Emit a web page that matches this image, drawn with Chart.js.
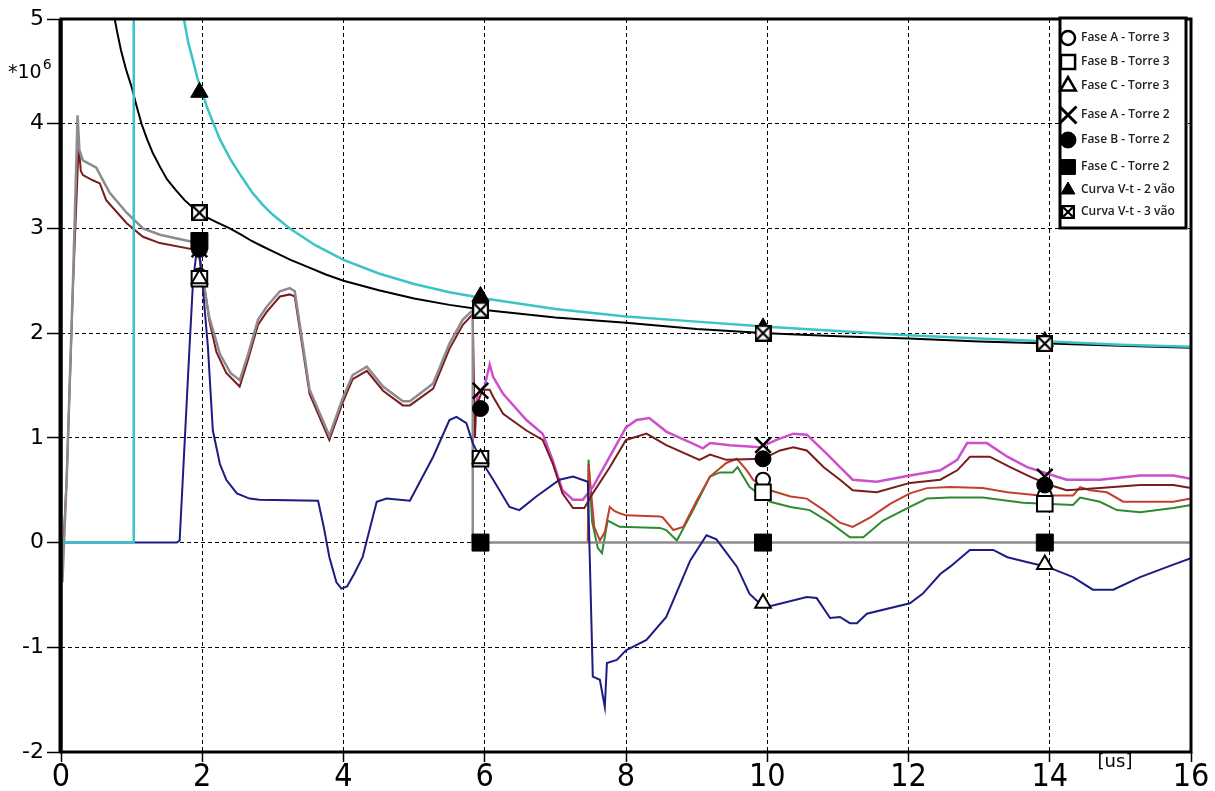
<!DOCTYPE html>
<html>
<head>
<meta charset="utf-8">
<script src="https://cdn.jsdelivr.net/npm/chart.js@4.4.1/dist/chart.umd.min.js"></script>
<style>
html,body{margin:0;padding:0;background:#fff;}
#wrap{width:1215px;height:791px;position:relative;}
</style>
</head>
<body>
<div id="wrap"><canvas id="c" width="1215" height="791"></canvas></div>
<script>
// ---------- axis ----------
const xMin = 0, xMax = 16, xStep = 2;
const yMin = -2, yMax = 5, yStep = 1;
const yUnitLabel = '*10';
const yUnitExp = '6';
const xUnitLabel = '[us]';

// ---------- curves (time in us, value in 10^6) ----------
const grayT = [0,0.01,0.02,0.08,0.17,0.235,0.26,0.31,0.5,0.57,0.69,0.93,1.16,1.4,1.87,1.93,2.0,2.1,2.25,2.4,2.53,2.65,2.79,2.91,3.1,3.24,3.31,3.52,3.8,3.99,4.13,4.33,4.56,4.84,4.94,5.27,5.5,5.69,5.83,5.83,16];
const grayV = [0,-0.1,-0.38,0.6,2.5,4.08,3.75,3.65,3.58,3.49,3.34,3.15,3.0,2.94,2.87,2.85,2.55,2.15,1.8,1.62,1.55,1.8,2.13,2.25,2.4,2.43,2.4,1.46,1.02,1.38,1.6,1.68,1.49,1.35,1.35,1.52,1.9,2.13,2.22,0,0];

const maroonT = [0,0.02,0.08,0.17,0.25,0.28,0.31,0.45,0.55,0.64,0.93,1.16,1.4,1.87,1.95,2.02,2.1,2.2,2.34,2.53,2.65,2.79,2.91,3.1,3.24,3.31,3.52,3.8,3.99,4.13,4.33,4.56,4.84,4.94,5.27,5.5,5.69,5.83,5.86,5.88,5.97,6.07,6.12,6.26,6.59,6.82,6.96,7.1,7.25,7.41,7.53,7.77,8.0,8.29,8.57,9.04,9.19,9.42,9.94,10.18,10.37,10.56,10.8,11.03,11.21,11.55,12.02,12.45,12.69,12.87,13.15,13.44,13.72,14.0,14.24,14.71,15.28,15.75,16];
const maroonV = [0,-0.2,0.6,2.45,3.8,3.55,3.51,3.46,3.43,3.27,3.05,2.92,2.86,2.8,2.78,2.5,2.12,1.82,1.62,1.49,1.75,2.08,2.2,2.35,2.37,2.35,1.42,0.98,1.34,1.56,1.64,1.45,1.31,1.31,1.47,1.85,2.08,2.18,1.0,1.3,1.46,1.46,1.39,1.23,1.07,0.98,0.76,0.47,0.33,0.33,0.47,0.72,0.98,1.04,0.93,0.79,0.84,0.79,0.8,0.88,0.91,0.88,0.72,0.6,0.5,0.48,0.57,0.6,0.69,0.82,0.82,0.72,0.63,0.55,0.5,0.52,0.55,0.55,0.52];

const magentaT = [5.86,5.9,6.0,6.07,6.12,6.26,6.59,6.82,6.96,7.1,7.25,7.39,7.53,7.77,8.0,8.15,8.33,8.57,8.9,9.09,9.19,9.47,9.9,10.13,10.37,10.56,10.84,11.03,11.21,11.55,12.02,12.45,12.69,12.83,13.11,13.4,13.68,13.96,14.24,14.71,15.28,15.75,16];
const magentaV = [1.2,1.42,1.5,1.7,1.58,1.42,1.17,1.04,0.79,0.5,0.41,0.41,0.53,0.82,1.1,1.17,1.19,1.06,0.96,0.9,0.95,0.93,0.91,0.98,1.04,1.03,0.85,0.72,0.6,0.58,0.64,0.69,0.79,0.95,0.95,0.82,0.72,0.66,0.6,0.6,0.64,0.64,0.61];

const redT = [7.46,7.47,7.55,7.63,7.7,7.77,7.84,7.91,8.0,8.48,8.52,8.67,8.81,9.0,9.19,9.42,9.57,9.71,9.8,10.04,10.33,10.56,10.8,11.03,11.21,11.46,11.74,12.02,12.26,12.59,13.05,13.4,13.86,14.33,14.43,14.57,14.81,15.04,15.75,16];
const redV = [0,0.75,0.15,0.02,0.1,0.34,0.3,0.28,0.26,0.25,0.24,0.12,0.15,0.4,0.63,0.76,0.8,0.69,0.6,0.5,0.44,0.42,0.31,0.19,0.15,0.24,0.37,0.47,0.52,0.53,0.52,0.48,0.45,0.45,0.53,0.5,0.48,0.39,0.39,0.42];

const greenT = [7.46,7.47,7.52,7.6,7.66,7.74,7.91,8.48,8.57,8.72,8.95,9.19,9.33,9.51,9.58,9.75,10.04,10.33,10.6,10.89,11.17,11.36,11.64,12.02,12.26,12.59,13.05,13.62,14.33,14.43,14.71,14.95,15.28,15.75,16];
const greenV = [0,0.79,0.2,-0.05,-0.1,0.21,0.15,0.14,0.12,0.02,0.31,0.63,0.67,0.67,0.72,0.53,0.39,0.34,0.31,0.19,0.05,0.05,0.21,0.34,0.42,0.43,0.43,0.38,0.36,0.43,0.39,0.31,0.29,0.33,0.36];

const navyT = [0,1.64,1.68,1.82,1.87,1.92,1.96,2.0,2.08,2.15,2.25,2.34,2.49,2.67,2.81,3.64,3.72,3.8,3.9,3.97,4.05,4.15,4.27,4.47,4.61,4.94,5.27,5.5,5.6,5.74,5.83,5.97,6.12,6.35,6.49,6.73,7.06,7.25,7.46,7.47,7.53,7.63,7.7,7.73,7.87,8.0,8.29,8.57,8.91,9.14,9.28,9.57,9.75,9.94,10.08,10.56,10.7,10.89,11.03,11.17,11.27,11.41,12.02,12.2,12.45,12.59,12.87,13.2,13.4,13.76,13.96,14.33,14.61,14.9,15.28,15.75,16];
const navyV = [0,0,0.02,1.87,2.5,2.78,2.75,2.5,1.87,1.07,0.75,0.6,0.47,0.42,0.41,0.4,0.15,-0.14,-0.38,-0.44,-0.42,-0.3,-0.14,0.39,0.42,0.4,0.82,1.17,1.2,1.14,0.95,0.76,0.6,0.34,0.31,0.44,0.6,0.63,0.58,0.3,-1.28,-1.31,-1.57,-1.15,-1.12,-1.03,-0.93,-0.71,-0.17,0.07,0.03,-0.23,-0.49,-0.61,-0.6,-0.52,-0.53,-0.72,-0.71,-0.77,-0.77,-0.68,-0.58,-0.49,-0.3,-0.23,-0.07,-0.07,-0.14,-0.2,-0.23,-0.33,-0.45,-0.45,-0.33,-0.21,-0.15];

// V-t curve, 2 spans (cyan): step then curve (null = gap)
const cyanT = [0,1.03,1.03,1.3,1.70,1.74,1.8,1.87,1.93,2.0,2.06,2.13,2.25,2.4,2.55,2.7,2.85,3.0,3.24,3.6,4.0,4.5,5.0,5.5,6.0,7.0,8.0,9.0,10.0,11.0,12.0,13.0,14.0,15.0,16.0];
const cyanV = [0,0,5.6,null,5.15,5.0,4.78,4.6,4.44,4.3,4.17,4.05,3.85,3.66,3.5,3.35,3.23,3.13,3.0,2.84,2.70,2.57,2.47,2.39,2.33,2.23,2.16,2.11,2.06,2.02,1.98,1.95,1.92,1.89,1.87];

// V-t curve, 3 spans (black)
const blackT = [0.72,0.76,0.8,0.85,0.92,1.0,1.07,1.14,1.22,1.3,1.4,1.5,1.62,1.75,1.85,1.96,2.08,2.2,2.39,2.55,2.7,2.85,3.0,3.25,3.5,3.75,4.0,4.5,5.0,5.5,6.0,7.0,8.0,9.0,10.0,11.0,12.0,13.0,14.0,15.0,16.0];
const blackV = [5.15,5.0,4.86,4.7,4.52,4.35,4.17,4.0,3.85,3.72,3.59,3.47,3.37,3.27,3.21,3.15,3.1,3.06,3.0,2.94,2.88,2.83,2.78,2.7,2.63,2.56,2.5,2.41,2.33,2.27,2.22,2.15,2.1,2.04,2.0,1.97,1.95,1.92,1.9,1.88,1.86];

// ---------- markers ----------
const markerT = [1.96, 5.94, 9.94, 13.93];
const faseA_T3 = [2.55, 0.8, 0.6, 0.45];
const faseB_T3 = [2.52, 0.8, 0.48, 0.37];
const faseC_T3 = [2.52, 0.8, -0.58, -0.21];
const faseA_T2 = [2.8, 1.45, 0.93, 0.63];
const faseB_T2 = [2.8, 1.28, 0.8, 0.55];
const faseC_T2 = [2.88, 0, 0, 0];
const vt2 = [4.3, 2.35, 2.05, 1.92];
const vt3 = [3.15, 2.22, 2.0, 1.9];

const legendLabels = ['Fase A - Torre 3','Fase B - Torre 3','Fase C - Torre 3','Fase A - Torre 2','Fase B - Torre 2','Fase C - Torre 2','Curva V-t - 2 vão','Curva V-t - 3 vão'];

// ---------- build ----------
function pts(t, v) { return t.map((x, i) => ({x: x, y: v[i]})); }

function boxCross(size, lw) {
  const c = document.createElement('canvas');
  c.width = size; c.height = size;
  const g = c.getContext('2d');
  g.fillStyle = '#fff'; g.fillRect(0, 0, size, size);
  g.strokeStyle = '#000'; g.lineWidth = lw;
  g.strokeRect(lw / 2, lw / 2, size - lw, size - lw);
  g.beginPath();
  g.moveTo(lw, lw); g.lineTo(size - lw, size - lw);
  g.moveTo(size - lw, lw); g.lineTo(lw, size - lw);
  g.stroke();
  return c;
}
const boxCrossBig = boxCross(17, 2.2);
const boxCrossSmall = boxCross(14, 2.2);

function curve(t, v, color, width, order) {
  return {data: pts(t, v), showLine: true, borderColor: color, borderWidth: width,
          pointRadius: 0, pointHoverRadius: 0, spanGaps: false, order: order, isCurve: true, tension: 0};
}
function marker(label, vals, style, radius, fill, bw, order, legendStyle, legendRadius) {
  return {label: label, data: pts(markerT, vals), showLine: false, pointStyle: style, pointRadius: radius,
          pointBackgroundColor: fill, pointBorderColor: '#000', pointBorderWidth: bw, order: order,
          legendStyle: legendStyle || style, legendRadius: legendRadius};
}

const datasets = [
  marker(legendLabels[0], faseA_T3, 'circle', 7, '#fff', 2, 8, 'circle', 7),
  marker(legendLabels[1], faseB_T3, 'rect', 11, '#fff', 2, 7, 'rect', 10),
  marker(legendLabels[2], faseC_T3, 'triangle', 9, '#fff', 2, 6, 'triangle', 9),
  marker(legendLabels[3], faseA_T2, 'crossRot', 11, '#000', 2.5, 5, 'crossRot', 12),
  marker(legendLabels[4], faseB_T2, 'circle', 8, '#000', 1, 4, 'circle', 8),
  marker(legendLabels[5], faseC_T2, 'rect', 12, '#000', 1, 3, 'rect', 10.5),
  marker(legendLabels[6], vt2, 'triangle', 10, '#000', 1, 2, 'triangle', 8),
  marker(legendLabels[7], vt3, boxCrossBig, 8, '#fff', 0, 1, boxCrossSmall, 7),
  curve(blackT, blackV, '#000000', 2, 20),
  curve(cyanT, cyanV, '#3cc4c4', 2.5, 19),
  curve(grayT, grayV, '#8e8a8e', 2.5, 22),
  curve(maroonT, maroonV, '#7a1c1c', 2, 23),
  curve(magentaT, magentaV, '#cc4fcc', 2.5, 24),
  curve(redT, redV, '#c0402e', 2, 25),
  curve(greenT, greenV, '#2f8a2f', 2, 26),
  curve(navyT, navyV, '#1c1c82', 2, 21)
];

const overlay = {
  id: 'overlay',
  afterDraw(chart) {
    const {ctx, chartArea: a} = chart;
    ctx.save();
    // frame
    ctx.strokeStyle = '#000';
    ctx.lineWidth = 3;
    ctx.strokeRect(a.left, a.top, a.right - a.left, a.bottom - a.top);
    ctx.lineWidth = 4;
    ctx.beginPath(); ctx.moveTo(a.left - 0.5, a.top); ctx.lineTo(a.left - 0.5, a.bottom); ctx.stroke();
    // y unit
    ctx.fillStyle = '#000';
    ctx.textBaseline = 'alphabetic';
    ctx.textAlign = 'left';
    ctx.font = '19px "DejaVu Sans"';
    ctx.fillText(yUnitLabel, 8, 78);
    const w = ctx.measureText(yUnitLabel).width;
    ctx.font = '14px "DejaVu Sans"';
    ctx.fillText(yUnitExp, 8 + w + 1, 69);
    // x unit
    ctx.font = '18px "DejaVu Sans"';
    ctx.textAlign = 'center';
    ctx.textBaseline = 'middle';
    ctx.fillText(xUnitLabel, 1115, 762);
    // legend
    const L = 1060, T = 18, R = 1186, B = 228;
    ctx.fillStyle = '#fff';
    ctx.fillRect(L, T, R - L, B - T);
    ctx.strokeStyle = '#000';
    ctx.lineWidth = 3;
    ctx.strokeRect(L, T, R - L, B - T);
    const rows = [38, 62, 86, 115, 140, 167, 190, 212];
    const mk = chart.data.datasets.filter(d => !d.isCurve);
    mk.forEach((d, i) => {
      const y = rows[i];
      ctx.fillStyle = d.pointBackgroundColor;
      ctx.strokeStyle = '#000';
      ctx.lineWidth = d.pointBorderWidth > 1 ? d.pointBorderWidth + 0.5 : 1;
      Chart.helpers.drawPoint(ctx, {pointStyle: d.legendStyle, radius: d.legendRadius, rotation: 0, borderWidth: ctx.lineWidth}, 1068, y);
      ctx.fillStyle = '#222';
      ctx.font = '600 12px "Open Sans"';
      ctx.textAlign = 'left';
      ctx.textBaseline = 'middle';
      ctx.fillText(d.label, 1081, y);
    });
    ctx.restore();
  }
};

const yTickFont = {family: 'DejaVu Sans', size: 22};
const xTickFont = {family: '"Liberation Sans Narrow", "DejaVu Sans Condensed", sans-serif', size: 32};

new Chart(document.getElementById('c'), {
  type: 'scatter',
  data: {datasets: datasets},
  options: {
    responsive: false,
    animation: false,
    devicePixelRatio: 1,
    layout: {padding: {top: 19, right: 24, left: 0, bottom: 0}},
    plugins: {legend: {display: false}, tooltip: {enabled: false}},
    elements: {line: {tension: 0}},
    scales: {
      x: {
        type: 'linear', min: xMin, max: xMax,
        ticks: {stepSize: xStep, color: '#000', font: xTickFont, padding: -4, maxRotation: 0},
        grid: {color: '#000', lineWidth: 1, drawTicks: true, tickLength: 10, tickColor: '#000', tickWidth: 1.5, tickBorderDash: []},
        border: {display: false, dash: [4, 3]},
        afterFit(s) { s.height = 39; }
      },
      y: {
        type: 'linear', min: yMin, max: yMax,
        ticks: {stepSize: yStep, color: '#000', font: yTickFont, padding: 3},
        grid: {color: '#000', lineWidth: 1, drawTicks: true, tickLength: 14, tickColor: '#000', tickWidth: 1.5, tickBorderDash: []},
        border: {display: false, dash: [4, 3]},
        afterFit(s) { s.width = 61; }
      }
    }
  },
  plugins: [overlay]
});
</script>
</body>
</html>
